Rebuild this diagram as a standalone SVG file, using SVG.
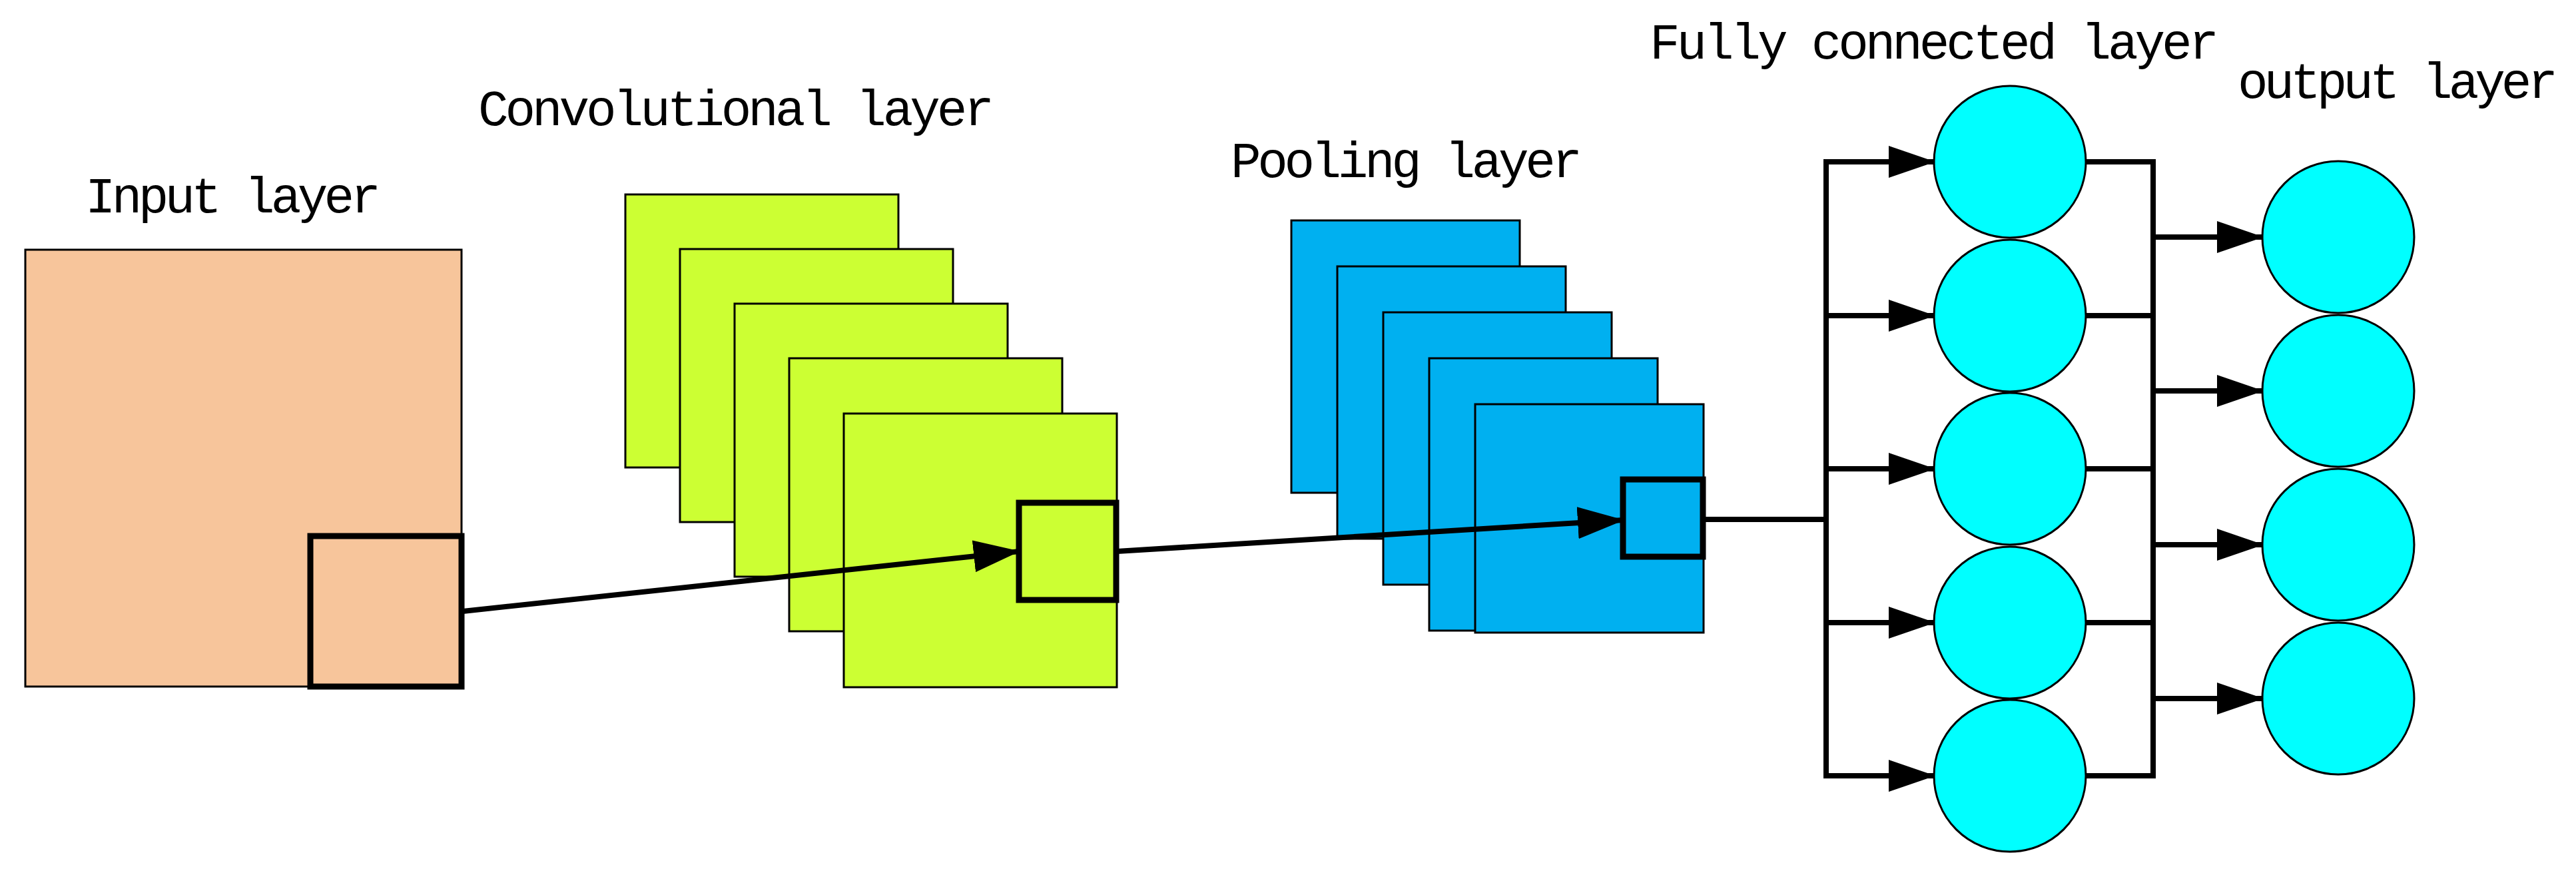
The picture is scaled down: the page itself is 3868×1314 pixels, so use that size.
<svg xmlns="http://www.w3.org/2000/svg" width="3868" height="1314" viewBox="0 0 3868 1314">
<style>
.t{font-family:"Liberation Mono","DejaVu Sans Mono",monospace;font-size:76px;fill:#000}
.in{fill:#F7C59B;stroke:#000;stroke-width:3}
.cv{fill:#CCFF33;stroke:#000;stroke-width:3}
.pl{fill:#00B0F0;stroke:#000;stroke-width:3}
.nd{fill:#00FFFF;stroke:#000;stroke-width:3}
.box{fill:none;stroke:#000;stroke-width:9}
.ln{fill:none;stroke:#000;stroke-width:8}
.ar{fill:none;stroke:#000;stroke-width:8;marker-end:url(#ah)}
</style>
<defs>
<marker id="ah" markerUnits="userSpaceOnUse" markerWidth="70" markerHeight="48" refX="68" refY="24" orient="auto"><path d="M0,0 L70,24 L0,48 Z" fill="#000"/></marker>
</defs>
<rect width="3868" height="1314" fill="#fff"/>
<g id="input-layer">
<text class="t" x="128" y="319" textLength="444">Input layer</text>
<rect class="in" x="38" y="375" width="655" height="656"/>
<rect class="box" x="466" y="805" width="227" height="226"/>
</g>
<g id="conv-layer">
<text class="t" x="718" y="188" textLength="775">Convolutional layer</text>
<rect class="cv" x="939" y="292" width="410" height="410"/>
<rect class="cv" x="1021" y="374" width="410" height="410"/>
<rect class="cv" x="1103" y="456" width="410" height="410"/>
<rect class="cv" x="1185" y="538" width="410" height="410"/>
<rect class="cv" x="1267" y="621" width="410" height="411"/>
<rect class="box" x="1530" y="755" width="146" height="146"/>
</g>
<g id="pooling-layer">
<text class="t" x="1848" y="266" textLength="528">Pooling layer</text>
<rect class="pl" x="1939" y="331" width="343" height="409"/>
<rect class="pl" x="2008" y="400" width="343" height="409"/>
<rect class="pl" x="2077" y="469" width="343" height="409"/>
<rect class="pl" x="2146" y="538" width="343" height="409"/>
<rect class="pl" x="2215" y="607" width="343" height="343"/>
<rect class="box" x="2437" y="720" width="120" height="116"/>
</g>
<g id="fc-layer">
<text class="t" x="2477" y="88" textLength="855">Fully connected layer</text>
<circle class="nd" cx="3018" cy="243" r="114"/>
<circle class="nd" cx="3018" cy="474" r="114"/>
<circle class="nd" cx="3018" cy="704" r="114"/>
<circle class="nd" cx="3018" cy="935" r="114"/>
<circle class="nd" cx="3018" cy="1165" r="114"/>
</g>
<g id="output-layer">
<text class="t" x="3360" y="147" textLength="481">output layer</text>
<circle class="nd" cx="3511" cy="356" r="114"/>
<circle class="nd" cx="3511" cy="587" r="114"/>
<circle class="nd" cx="3511" cy="818" r="114"/>
<circle class="nd" cx="3511" cy="1049" r="114"/>
</g>
<g id="connectors">
<line class="ar" x1="695" y1="918" x2="1530" y2="828"/>
<line class="ar" x1="1677" y1="828" x2="2437" y2="781"/>
<line class="ln" x1="2557" y1="780" x2="2742" y2="780"/>
<line class="ln" x1="2742" y1="239" x2="2742" y2="1169"/>
<line class="ar" x1="2742" y1="243" x2="2904" y2="243"/>
<line class="ar" x1="2742" y1="474" x2="2904" y2="474"/>
<line class="ar" x1="2742" y1="704" x2="2904" y2="704"/>
<line class="ar" x1="2742" y1="935" x2="2904" y2="935"/>
<line class="ar" x1="2742" y1="1165" x2="2904" y2="1165"/>
<line class="ln" x1="3233" y1="239" x2="3233" y2="1169"/>
<line class="ln" x1="3131" y1="243" x2="3233" y2="243"/>
<line class="ln" x1="3131" y1="474" x2="3233" y2="474"/>
<line class="ln" x1="3131" y1="704" x2="3233" y2="704"/>
<line class="ln" x1="3131" y1="935" x2="3233" y2="935"/>
<line class="ln" x1="3131" y1="1165" x2="3233" y2="1165"/>
<line class="ar" x1="3233" y1="356" x2="3397" y2="356"/>
<line class="ar" x1="3233" y1="587" x2="3397" y2="587"/>
<line class="ar" x1="3233" y1="818" x2="3397" y2="818"/>
<line class="ar" x1="3233" y1="1049" x2="3397" y2="1049"/>
</g>
</svg>
